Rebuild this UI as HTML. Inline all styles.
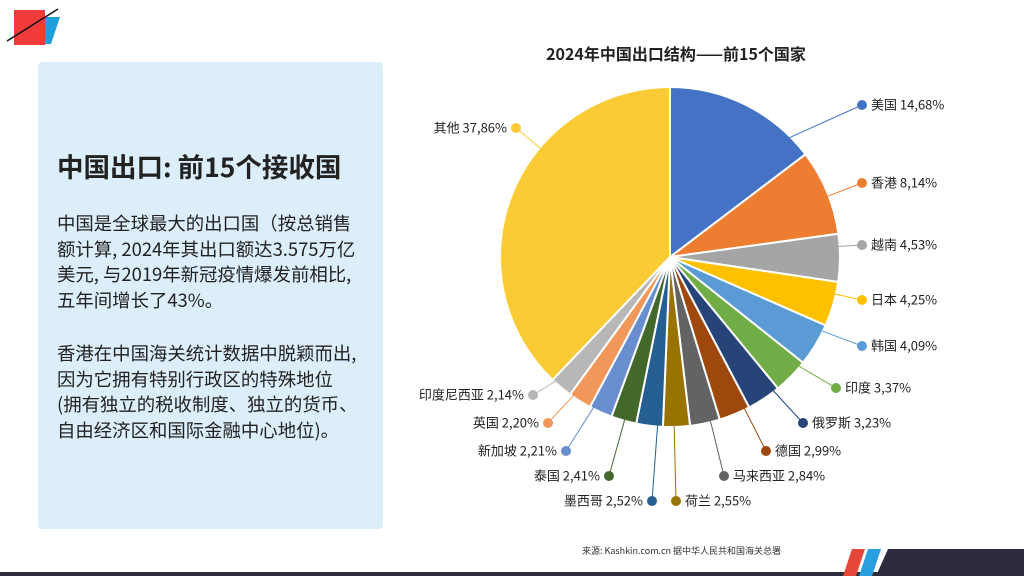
<!DOCTYPE html>
<html><head><meta charset="utf-8"><style>
body{margin:0;width:1024px;height:576px;overflow:hidden;background:#fff;font-family:"Liberation Sans","Noto Sans CJK SC",sans-serif;position:relative}
.panel{position:absolute;left:38px;top:62px;width:345px;height:467px;background:#DDEEFB;border-radius:4px}
.h{position:absolute;left:57px;top:147px;font-size:26.5px;font-weight:bold;color:#222;font-family:"Noto Sans CJK SC",sans-serif;line-height:38px;white-space:nowrap}
.p{position:absolute;left:57px;font-size:18.4px;color:#222;line-height:25.5px;font-family:"Noto Sans CJK SC",sans-serif;white-space:nowrap}
svg{position:absolute;left:0;top:0}
</style></head><body>
<div class="panel"></div>
<div class="h">中国出口: 前15个接收国</div>
<div class="p" style="top:211px">中国是全球最大的出口国（按总销售<br>额计算, 2024年其出口额达3.575万亿<br>美元, 与2019年新冠疫情爆发前相比,<br>五年间增长了43%。</div>
<div class="p" style="top:341px">香港在中国海关统计数据中脱颖而出,<br>因为它拥有特别行政区的特殊地位<br>(拥有独立的税收制度、独立的货币、<br>自由经济区和国际金融中心地位)。</div>
<svg width="1024" height="576" id="svg">
<g>
<rect x="14" y="10" width="31" height="35" fill="#F23B3B"/>
<polygon points="45,17 60,17 51,44 45,44" fill="#1E9FDB"/>
<line x1="7" y1="41" x2="58" y2="9" stroke="#111" stroke-width="1.5"/>
</g>
<g>
<rect x="0" y="572" width="1024" height="4" fill="#2D2B3D"/>
<polygon points="888,549 1024,549 1024,576 876,576" fill="#2D2B3D"/>
<polygon points="852,549 865,549 856,576 843,576" fill="#E5483A"/>
<polygon points="868,549 881,549 872,576 859,576" fill="#2A9FE0"/>
</g>
<text x="676" y="60" text-anchor="middle" font-size="16" font-weight="bold" fill="#222" font-family="Noto Sans CJK SC,sans-serif">2024年中国出口结构——前15个国家</text>
<text x="582" y="554" font-size="9" fill="#333" font-family="Noto Sans CJK SC,sans-serif">来源: Kashkin.com.cn 据中华人民共和国海关总署</text>
<g id="pie"></g>
</svg>
<script>
const categories=["美国","香港","越南","日本","韩国","印度","俄罗斯","德国","马来西亚","荷兰","墨西哥","泰国","新加坡","英国","印度尼西亚","其他"];
const values=[14.68,8.14,4.53,4.25,4.09,3.37,3.23,2.99,2.84,2.55,2.52,2.41,2.21,2.20,2.14,37.86];
const valueLabels=["14,68%","8,14%","4,53%","4,25%","4,09%","3,37%","3,23%","2,99%","2,84%","2,55%","2,52%","2,41%","2,21%","2,20%","2,14%","37,86%"];
const colors=["#4472C4","#ED7D31","#A5A5A5","#FFC000","#5B9BD5","#70AD47","#264478","#9E480E","#636363","#997300","#255E91","#43682B","#698ED0","#F1975A","#B7B7B7","#FBCB35"];
const labelLayout=[[862,105],[862,183],[862,245],[862,300],[862,346],[836,388],[803,423],[766,451],[724,476],[676,501],[652,501],[609,476],[566,451],[548,423],[533,395],[516,128]];
const cx=670,cy=257,R=170;
const g=document.getElementById('pie');
const NS='http://www.w3.org/2000/svg';
const total=values.reduce((a,b)=>a+b,0);
function pt(a,r){return [cx+r*Math.sin(a),cy-r*Math.cos(a)];}
let acc=0;
values.forEach((v,i)=>{
  const a0=acc/total*2*Math.PI; acc+=v; const a1=acc/total*2*Math.PI;
  const p0=pt(a0,R),p1=pt(a1,R);
  const path=document.createElementNS(NS,'path');
  path.setAttribute('d',`M${cx},${cy}L${p0[0]},${p0[1]}A${R},${R} 0 ${a1-a0>Math.PI?1:0} 1 ${p1[0]},${p1[1]}Z`);
  path.setAttribute('fill',colors[i]);path.setAttribute('stroke','#fff');path.setAttribute('stroke-width','2');
  
  
  g.appendChild(path);
  const d=labelLayout[i];
  let da=Math.atan2(d[0]-cx,-(d[1]-cy)); if(da<0)da+=2*Math.PI;
  const pad=(a1-a0)*0.15;
  const m=Math.min(Math.max(da,a0+pad),a1-pad);
  const e=pt(m,R-2);
  const ln=document.createElementNS(NS,'line');
  ln.setAttribute('x1',e[0]);ln.setAttribute('y1',e[1]);ln.setAttribute('x2',d[0]);ln.setAttribute('y2',d[1]);
  ln.setAttribute('stroke',colors[i]);ln.setAttribute('stroke-width','1');
  
  
  g.appendChild(ln);
  const c=document.createElementNS(NS,'circle');
  c.setAttribute('cx',d[0]);c.setAttribute('cy',d[1]);c.setAttribute('r','5');c.setAttribute('fill',colors[i]);
  
  
  g.appendChild(c);
  const right=Math.sin((a0+a1)/2)>=0;
  const t=document.createElementNS(NS,'text');
  t.setAttribute('x',right?d[0]+9:d[0]-9);t.setAttribute('y',d[1]+4.5);
  t.setAttribute('text-anchor',right?'start':'end');t.setAttribute('font-size','13');t.setAttribute('fill','#222');
  t.setAttribute('font-family','Noto Sans CJK SC,sans-serif');
  t.textContent=categories[i]+' '+valueLabels[i];
  
  
  g.appendChild(t);
});
</script>
</body></html>
